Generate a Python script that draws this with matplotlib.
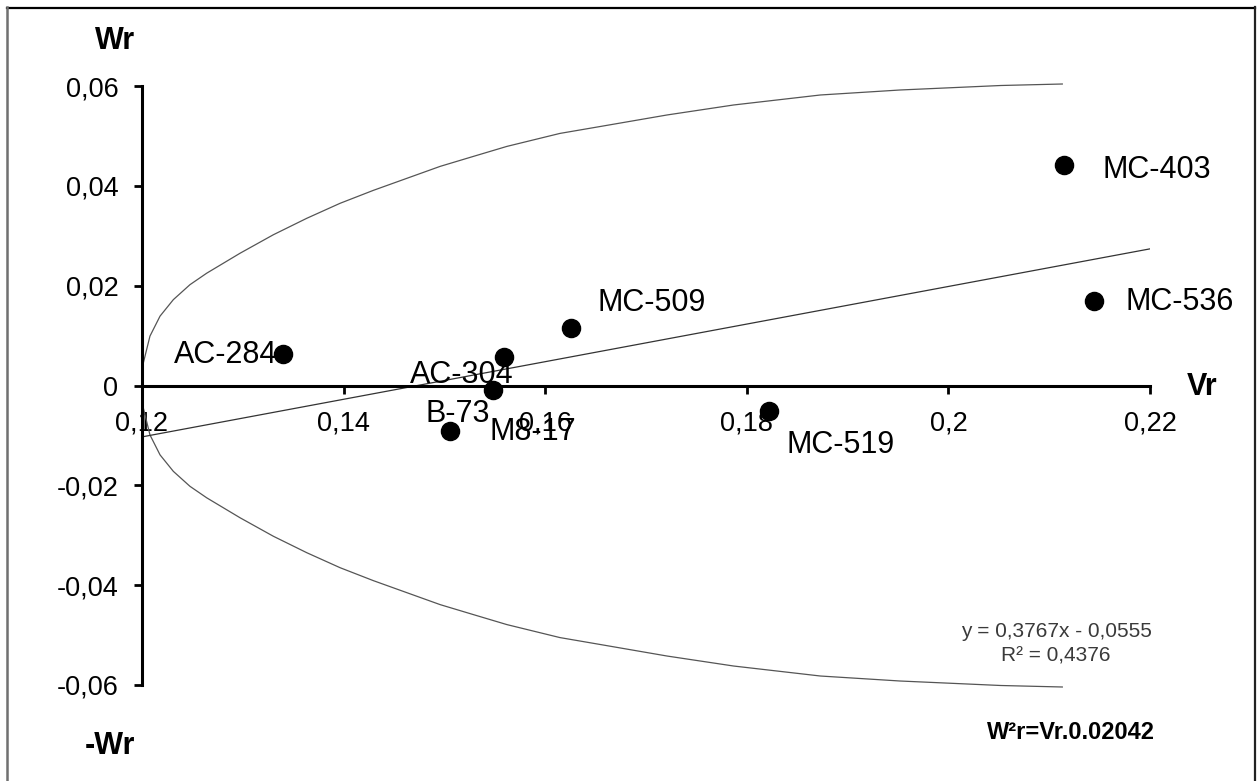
from matplotlib import pyplot as plt
from matplotlib.lines import Line2D
import numpy as np

plt.rcParams['font.family'] = ['Liberation Sans', 'DejaVu Sans']

# -------- data ----------#
names = ['MC-403', 'MC-536', 'MC-509', 'AC-304', 'M8-17', 'B-73', 'AC-284', 'MC-519']
Vr = [0.2115, 0.2144, 0.1626, 0.1559, 0.1548, 0.1506, 0.1340, 0.1822]
Wr = [0.0442, 0.0170, 0.0116, 0.0058, -0.0010, -0.0092, 0.0064, -0.0052]

# trendline from the chart text
slope, intercept = 0.3767, -0.0555
line_x = [0.12, 0.22]

# limiting parabola, upper half (lower half is its mirror)
par_x = [0.1200, 0.12013, 0.12079, 0.12179, 0.12311, 0.12476, 0.12642, 0.12973,
         0.13303, 0.13635, 0.13965, 0.14296, 0.14627, 0.14958, 0.15288, 0.15620,
         0.16146, 0.1655, 0.1721, 0.1787, 0.1873, 0.1952, 0.2052, 0.2113]
par_y = [0.0, 0.0045, 0.0099, 0.0139, 0.0172, 0.0202, 0.0225, 0.0265,
         0.0302, 0.0335, 0.0365, 0.0391, 0.0415, 0.0439, 0.0459, 0.0479,
         0.0505, 0.0519, 0.0542, 0.0562, 0.0582, 0.0592, 0.0601, 0.0604]

xticks = [0.12, 0.14, 0.16, 0.18, 0.20, 0.22]
xtick_labels = ['0,12', '0,14', '0,16', '0,18', '0,2', '0,22']
yticks = [-0.06, -0.04, -0.02, 0.0, 0.02, 0.04, 0.06]
ytick_labels = ['-0,06', '-0,04', '-0,02', '0', '0,02', '0,04', '0,06']

# label offsets (pixels from the dot), alignment
lab_off = {'MC-403': (38, -13, 'left'), 'MC-536': (32, -9, 'left'),
           'MC-509': (26, 17, 'left'), 'AC-304': (-94, -26, 'left'),
           'M8-17': (-3, -50, 'left'), 'B-73': (-25, 9, 'left'),
           'AC-284': (-6, -9, 'right'), 'MC-519': (18, -42, 'left')}

W, H = 1258, 781
fig = plt.figure(figsize=(W / 100, H / 100), dpi=100)
ax = fig.add_axes([142 / W, 1 - 685 / H, 1008 / W, 599 / H])

ax.plot(par_x, par_y, '-', color='#555555', lw=0.9, clip_on=False,
        solid_joinstyle='round')
ax.plot(par_x, [-v for v in par_y], '-', color='#555555', lw=0.9, clip_on=False,
        solid_joinstyle='round')
ax.plot(line_x, np.polyval([slope, intercept], line_x), '-', color='#333333', lw=0.9)
ax.scatter(Vr, Wr, s=170, color='black', zorder=5, clip_on=False)

for n, x, y in zip(names, Vr, Wr):
    dx, dy, ha = lab_off[n]
    ax.annotate(n, (x, y), xytext=(dx, dy), textcoords='offset pixels',
                ha=ha, va='baseline', fontsize=22, color='black', zorder=6)

ax.set_xlim(0.12, 0.22)
ax.set_ylim(-0.06, 0.06)
ax.spines['top'].set_visible(False)
ax.spines['right'].set_visible(False)
ax.spines['bottom'].set_position(('data', 0))
for s in ['left', 'bottom']:
    ax.spines[s].set_linewidth(2.2)
ax.set_xticks(xticks)
ax.set_xticklabels(xtick_labels)
ax.set_yticks(yticks)
ax.set_yticklabels(ytick_labels)
ax.tick_params(axis='both', direction='out', length=6, width=2, labelsize=19.5)
ax.tick_params(axis='x', pad=12)
ax.tick_params(axis='y', pad=11)
ax.patch.set_visible(False)


def fx(px):
    return px / W


def fy(py):
    return 1 - py / H


fig.text(fx(95), fy(49), 'Wr', fontsize=22, fontweight='bold', va='baseline')
fig.text(fx(85), fy(754), '-Wr', fontsize=22, fontweight='bold', va='baseline')
fig.text(fx(1187), fy(395), 'Vr', fontsize=22, fontweight='bold', va='baseline')
fig.text(fx(1056), fy(637), 'y = 0,3767x - 0,0555', fontsize=15, color='#3a3a3a',
         ha='center', va='baseline')
fig.text(fx(1056), fy(661), 'R² = 0,4376', fontsize=15, color='#3a3a3a',
         ha='center', va='baseline')
fig.text(fx(1071), fy(739), 'W²r=Vr.0.02042', fontsize=17, fontweight='bold',
         ha='center', va='baseline')

# chart frame
fig.add_artist(Line2D([fx(7), fx(1255)], [fy(7.5), fy(7.5)], color='black', lw=1.6))
fig.add_artist(Line2D([fx(7), fx(7)], [fy(7), fy(790)], color='#707070', lw=1.8))
fig.add_artist(Line2D([fx(1255), fx(1255)], [fy(7), fy(790)], color='#222222', lw=1.6))

plt.savefig('out.png', dpi=100)
